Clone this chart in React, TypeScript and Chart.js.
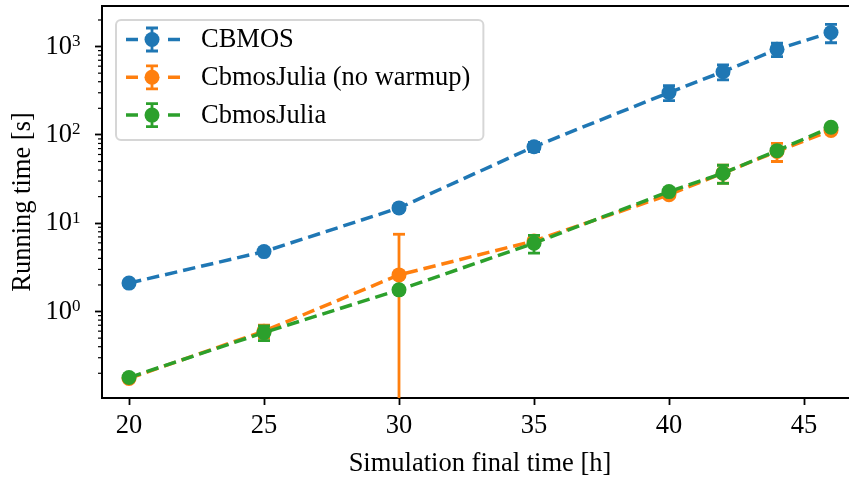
import React, { useEffect, useRef } from "react";
import { Chart, registerables } from "chart.js";

Chart.register(...registerables);

// ---- data ----
const finalTimes = [20, 25, 30, 35, 40, 42, 44, 46];
const cbmosTime = [2.1, 4.77, 14.9, 73.5, 302, 519, 930, 1445];
const cbmosErr = [0.1, 0.25, 0.8, 9, 58, 100, 160, 340];
const juliaNoWarmupTime = [0.175, 0.6, 2.6, 6.3, 21.0, 37, 65, 112];
const juliaNoWarmupErr = [0.01, 0.1, 4.9, 0.6, 1.5, 8.5, 15, 5];
const juliaTime = [0.179, 0.578, 1.76, 5.94, 22.8, 36.8, 66.3, 122];
const juliaErr = [0.01, 0.11, 0.1, 1.36, 1.5, 8.5, 3, 6];

const seriesLabels = ["CBMOS", "CbmosJulia (no warmup)", "CbmosJulia"];
const seriesColors = ["#1f77b4", "#ff7f0e", "#2ca02c"];

const xTickValues = [20, 25, 30, 35, 40, 45];
const yMajorTicks = [1, 10, 100, 1000];
const yMajorBase = ["10", "10", "10", "10"];
const yMajorExponents = ["0", "1", "2", "3"];
const yMinorTicks = [
  0.2, 0.3, 0.4, 0.5, 0.6, 0.7, 0.8, 0.9,
  2, 3, 4, 5, 6, 7, 8, 9,
  20, 30, 40, 50, 60, 70, 80, 90,
  200, 300, 400, 500, 600, 700, 800, 900,
  2000,
];

const FONT_FAMILY = '"Liberation Serif", "Times New Roman", serif';
const FONT_SIZE = 26.5;

const errorsByDataset = [cbmosErr, juliaNoWarmupErr, juliaErr];

const errorBarPlugin = {
  id: "errorBars",
  beforeDatasetDraw(chart: any, args: any) {
    const i = args.index;
    const errs = errorsByDataset[i];
    if (!errs) return;
    const ds = chart.data.datasets[i];
    const xs = chart.scales.x;
    const ys = chart.scales.y;
    const area = chart.chartArea;
    const ctx = chart.ctx;
    ctx.save();
    ctx.beginPath();
    ctx.rect(area.left, area.top, area.right - area.left, area.bottom - area.top);
    ctx.clip();
    ctx.strokeStyle = ds.borderColor;
    ctx.lineWidth = 2.8;
    ctx.setLineDash([]);
    ds.data.forEach((p: any, k: number) => {
      const e = errs[k];
      const x = xs.getPixelForValue(p.x);
      const hi = p.y + e;
      const lo = p.y - e;
      const yHi = ys.getPixelForValue(hi);
      const yLo = lo > 0 ? ys.getPixelForValue(lo) : area.bottom + 10;
      ctx.beginPath();
      ctx.moveTo(x, yHi);
      ctx.lineTo(x, yLo);
      ctx.stroke();
      ctx.beginPath();
      ctx.moveTo(x - 6, yHi);
      ctx.lineTo(x + 6, yHi);
      if (lo > 0) {
        ctx.moveTo(x - 6, yLo);
        ctx.lineTo(x + 6, yLo);
      }
      ctx.stroke();
    });
    ctx.restore();
  },
};

const framePlugin = {
  id: "frameAndMinor",
  afterDraw(chart: any) {
    const ctx = chart.ctx;
    const area = chart.chartArea;
    const ys = chart.scales.y;
    ctx.save();
    // top and right spines
    ctx.strokeStyle = "#000";
    ctx.lineWidth = 2;
    ctx.beginPath();
    ctx.moveTo(area.left - 1, area.top);
    ctx.lineTo(area.right, area.top);
    ctx.lineTo(area.right, area.bottom + 1);
    ctx.stroke();
    // minor ticks
    ctx.lineWidth = 1.2;
    yMinorTicks.forEach((v) => {
      const y = ys.getPixelForValue(v);
      if (y < area.top || y > area.bottom) return;
      ctx.beginPath();
      ctx.moveTo(area.left - 4, y);
      ctx.lineTo(area.left, y);
      ctx.stroke();
    });
    // exponents of the major tick labels
    ctx.fillStyle = "#000";
    ctx.font = `17px ${FONT_FAMILY}`;
    ctx.textAlign = "left";
    ctx.textBaseline = "alphabetic";
    yMajorTicks.forEach((v, k) => {
      const y = ys.getPixelForValue(v);
      if (y < area.top - 2 || y > area.bottom + 2) return;
      ctx.fillText(yMajorExponents[k], area.left - 30, y - 0.5);
    });
    ctx.restore();
  },
};

const legendPlugin = {
  id: "boxLegend",
  afterDraw(chart: any) {
    const ctx = chart.ctx;
    const area = chart.chartArea;
    const left = area.left + 14;
    const top = area.top + 14;
    const textX = left + 85;
    ctx.save();
    ctx.font = `${FONT_SIZE}px ${FONT_FAMILY}`;
    let maxW = 0;
    chart.data.datasets.forEach((ds: any) => {
      maxW = Math.max(maxW, ctx.measureText(ds.label).width);
    });
    const width = textX + maxW + 13 - left;
    const height = 120;
    const r = 5;
    ctx.beginPath();
    ctx.moveTo(left + r, top);
    ctx.lineTo(left + width - r, top);
    ctx.arcTo(left + width, top, left + width, top + r, r);
    ctx.lineTo(left + width, top + height - r);
    ctx.arcTo(left + width, top + height, left + width - r, top + height, r);
    ctx.lineTo(left + r, top + height);
    ctx.arcTo(left, top + height, left, top + height - r, r);
    ctx.lineTo(left, top + r);
    ctx.arcTo(left, top, left + r, top, r);
    ctx.closePath();
    ctx.fillStyle = "rgba(255,255,255,0.8)";
    ctx.fill();
    ctx.strokeStyle = "rgba(204,204,204,0.8)";
    ctx.lineWidth = 2;
    ctx.stroke();

    chart.data.datasets.forEach((ds: any, i: number) => {
      const cy = top + 19.5 + i * 37.8;
      const cx = left + 36;
      ctx.strokeStyle = ds.borderColor;
      ctx.fillStyle = ds.borderColor;
      ctx.lineWidth = 3.5;
      ctx.beginPath();
      ctx.moveTo(left + 10, cy);
      ctx.lineTo(left + 22, cy);
      ctx.moveTo(left + 52, cy);
      ctx.lineTo(left + 64, cy);
      ctx.stroke();
      ctx.lineWidth = 2.8;
      ctx.beginPath();
      ctx.moveTo(cx, cy - 11.5);
      ctx.lineTo(cx, cy + 11.5);
      ctx.moveTo(cx - 6, cy - 11.5);
      ctx.lineTo(cx + 6, cy - 11.5);
      ctx.moveTo(cx - 6, cy + 11.5);
      ctx.lineTo(cx + 6, cy + 11.5);
      ctx.stroke();
      ctx.beginPath();
      ctx.arc(cx, cy, 7.5, 0, Math.PI * 2);
      ctx.fill();
      ctx.fillStyle = "#000";
      ctx.textAlign = "left";
      ctx.textBaseline = "middle";
      ctx.fillText(ds.label, textX, cy + 1);
    });
    ctx.restore();
  },
};

function makeDataset(label: string, ys: number[], color: string, order: number) {
  return {
    label,
    data: finalTimes.map((x, k) => ({ x, y: ys[k] })),
    borderColor: color,
    backgroundColor: color,
    borderWidth: 3.5,
    borderDash: [12.5, 6],
    pointRadius: 7.5,
    pointBorderWidth: 0,
    pointBackgroundColor: color,
    pointHoverRadius: 7.5,
    fill: false,
    tension: 0,
    order,
  };
}

const CANVAS_W = 858;
const CANVAS_H = 477;

export default function App() {
  const canvasRef = useRef<HTMLCanvasElement | null>(null);

  useEffect(() => {
    const canvas = canvasRef.current;
    if (!canvas) return;
    const font = { family: FONT_FAMILY, size: FONT_SIZE };
    const chart = new Chart(canvas, {
      type: "line",
      data: {
        datasets: [
          makeDataset(seriesLabels[0], cbmosTime, seriesColors[0], 3),
          makeDataset(seriesLabels[1], juliaNoWarmupTime, seriesColors[1], 2),
          makeDataset(seriesLabels[2], juliaTime, seriesColors[2], 1),
        ] as any,
      },
      options: {
        animation: false,
        responsive: false,
        maintainAspectRatio: false,
        layout: { autoPadding: false, padding: { top: 6, right: 0, left: 0, bottom: 0 } },
        plugins: {
          legend: { display: false },
          tooltip: { enabled: false },
        },
        scales: {
          x: {
            type: "linear",
            min: 19,
            max: 47,
            afterBuildTicks: (s: any) => {
              s.ticks = xTickValues.map((v) => ({ value: v }));
            },
            afterFit: (s: any) => {
              s.height = 79;
              s.paddingLeft = 0;
              s.paddingRight = 0;
            },
            ticks: {
              font,
              color: "#000",
              padding: 5,
              maxRotation: 0,
              autoSkip: false,
              callback: (v: any) => String(v),
            },
            grid: {
              display: true,
              drawOnChartArea: false,
              drawTicks: true,
              tickLength: 7,
              tickColor: "#000",
              tickWidth: 1.8,
            },
            border: { display: true, color: "#000", width: 2 },
            title: {
              display: true,
              text: "Simulation final time [h]",
              font: { family: FONT_FAMILY, size: FONT_SIZE, lineHeight: 1.0 },
              color: "#000",
              padding: { top: 0, bottom: 0 },
            },
          },
          y: {
            type: "logarithmic",
            min: 0.105,
            max: 2880,
            afterBuildTicks: (s: any) => {
              s.ticks = yMajorTicks.map((v) => ({ value: v, major: true }));
            },
            afterFit: (s: any) => {
              s.width = 102;
              s.paddingTop = 0;
              s.paddingBottom = 0;
            },
            ticks: {
              font,
              color: "#000",
              padding: 23,
              autoSkip: false,
              callback: (v: any) => {
                const idx = yMajorTicks.findIndex((m) => Math.abs(m - v) < 1e-9 * m);
                return idx >= 0 ? yMajorBase[idx] : "";
              },
            },
            grid: {
              display: true,
              drawOnChartArea: false,
              drawTicks: true,
              tickLength: 7,
              tickColor: "#000",
              tickWidth: 1.8,
            },
            border: { display: true, color: "#000", width: 2 },
            title: {
              display: true,
              text: "Running time [s]",
              font,
              color: "#000",
              padding: { top: 7, bottom: 0 },
            },
          },
        },
      } as any,
      plugins: [errorBarPlugin, framePlugin, legendPlugin],
    });
    return () => {
      chart.destroy();
    };
  }, []);

  return (
    <div
      style={{
        position: "fixed",
        left: 0,
        top: 0,
        width: 849,
        height: 477,
        overflow: "hidden",
        background: "#fff",
      }}
    >
      <canvas
        ref={canvasRef}
        width={CANVAS_W}
        height={CANVAS_H}
        style={{ width: CANVAS_W, height: CANVAS_H, display: "block" }}
      />
    </div>
  );
}
